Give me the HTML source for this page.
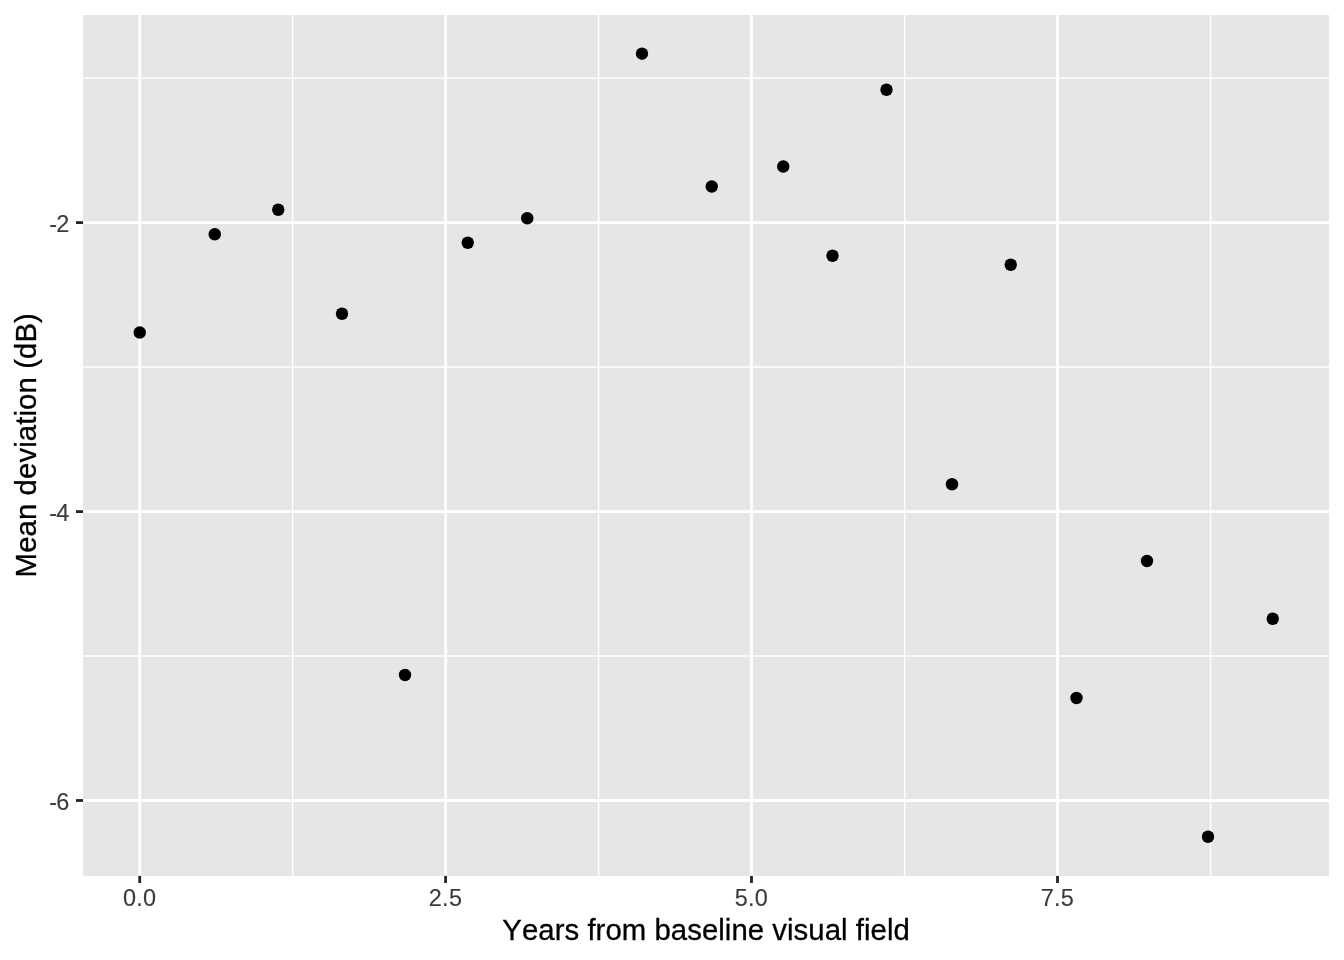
<!DOCTYPE html>
<html lang="en">
<head>
<meta charset="utf-8">
<title>Mean deviation vs years from baseline visual field</title>
<style>
html,body{margin:0;padding:0;background:#fff;}
body{width:1344px;height:960px;overflow:hidden;font-family:"Liberation Sans",sans-serif;}
svg{display:block;will-change:transform;filter:grayscale(1);}
text{font-family:"Liberation Sans",sans-serif;font-kerning:none;font-variant-ligatures:none;}
.ax{font-size:23.47px;fill:#3B3B3B;stroke:#3B3B3B;stroke-width:0.12px;}
.ti{font-size:29.33px;fill:#000;stroke:#000;stroke-width:0.3px;}
</style>
</head>
<body>
<svg width="1344" height="960" viewBox="0 0 1344 960">
<rect x="0" y="0" width="1344" height="960" fill="#ffffff"/>
<rect x="83.05" y="15.00" width="1245.95" height="860.90" fill="#E6E6E6"/>
<g stroke="#ffffff" stroke-width="1.42" fill="none">
<line x1="83.05" x2="1329.00" y1="78.30" y2="78.30"/>
<line x1="83.05" x2="1329.00" y1="367.00" y2="367.00"/>
<line x1="83.05" x2="1329.00" y1="656.00" y2="656.00"/>
<line x1="292.60" x2="292.60" y1="15.00" y2="875.90"/>
<line x1="598.60" x2="598.60" y1="15.00" y2="875.90"/>
<line x1="904.60" x2="904.60" y1="15.00" y2="875.90"/>
<line x1="1210.60" x2="1210.60" y1="15.00" y2="875.90"/>
</g>
<g stroke="#ffffff" stroke-width="2.84" fill="none">
<line x1="83.05" x2="1329.00" y1="222.60" y2="222.60"/>
<line x1="83.05" x2="1329.00" y1="511.60" y2="511.60"/>
<line x1="83.05" x2="1329.00" y1="800.50" y2="800.50"/>
<line x1="139.70" x2="139.70" y1="15.00" y2="875.90"/>
<line x1="445.60" x2="445.60" y1="15.00" y2="875.90"/>
<line x1="751.50" x2="751.50" y1="15.00" y2="875.90"/>
<line x1="1057.50" x2="1057.50" y1="15.00" y2="875.90"/>
</g>
<g fill="#000000">
<circle cx="139.75" cy="332.50" r="6.20"/>
<circle cx="214.75" cy="234.25" r="6.20"/>
<circle cx="278.25" cy="209.75" r="6.20"/>
<circle cx="342.00" cy="313.75" r="6.20"/>
<circle cx="405.00" cy="675.00" r="6.20"/>
<circle cx="467.75" cy="242.75" r="6.20"/>
<circle cx="527.25" cy="218.25" r="6.20"/>
<circle cx="642.00" cy="53.70" r="6.20"/>
<circle cx="711.75" cy="186.50" r="6.20"/>
<circle cx="783.25" cy="166.50" r="6.20"/>
<circle cx="832.50" cy="255.75" r="6.20"/>
<circle cx="886.50" cy="89.75" r="6.20"/>
<circle cx="952.00" cy="484.25" r="6.20"/>
<circle cx="1010.75" cy="264.75" r="6.20"/>
<circle cx="1076.50" cy="698.00" r="6.20"/>
<circle cx="1147.00" cy="561.00" r="6.20"/>
<circle cx="1208.00" cy="836.75" r="6.20"/>
<circle cx="1272.75" cy="618.75" r="6.20"/>
</g>
<g stroke="#242424" stroke-width="2.84" fill="none">
<line x1="76.00" x2="83.05" y1="222.60" y2="222.60"/>
<line x1="76.00" x2="83.05" y1="511.60" y2="511.60"/>
<line x1="76.00" x2="83.05" y1="800.50" y2="800.50"/>
<line x1="139.70" x2="139.70" y1="875.90" y2="882.95"/>
<line x1="445.60" x2="445.60" y1="875.90" y2="882.95"/>
<line x1="751.50" x2="751.50" y1="875.90" y2="882.95"/>
<line x1="1057.50" x2="1057.50" y1="875.90" y2="882.95"/>
</g>
<g class="ax" text-anchor="end" style="letter-spacing:-0.7px">
<text x="68.70" y="231.90">-2</text>
<text x="68.70" y="520.90">-4</text>
<text x="68.70" y="809.80">-6</text>
</g>
<g class="ax" text-anchor="middle" style="letter-spacing:0.25px">
<text x="139.60" y="906.40">0.0</text>
<text x="445.50" y="906.40">2.5</text>
<text x="751.40" y="906.40">5.0</text>
<text x="1057.40" y="906.40">7.5</text>
</g>
<text class="ti" text-anchor="middle" style="letter-spacing:0.05px" x="706.1" y="940">Years from baseline visual field</text>
<text class="ti" text-anchor="middle" style="letter-spacing:0.1px" transform="translate(36,445.2) rotate(-90)">Mean deviation (dB)</text>
</svg>
</body>
</html>
